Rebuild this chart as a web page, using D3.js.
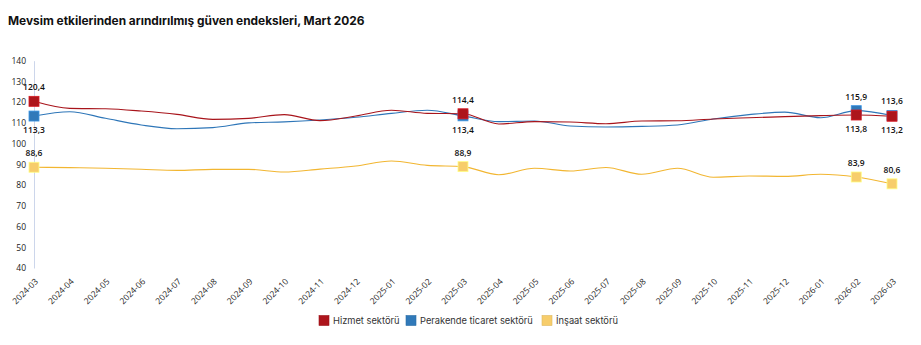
<!DOCTYPE html>
<html>
<head>
<meta charset="utf-8">
<script src="https://cdn.jsdelivr.net/npm/d3@7/dist/d3.min.js"></script>
<style>
  html, body { margin: 0; padding: 0; background: #fff; }
  svg { display: block; }
</style>
</head>
<body>
<svg id="chart" width="921" height="345"></svg>
<script>
// Monthly periods
const months = ["2024-03","2024-04","2024-05","2024-06","2024-07","2024-08","2024-09","2024-10","2024-11","2024-12",
  "2025-01","2025-02","2025-03","2025-04","2025-05","2025-06","2025-07","2025-08","2025-09","2025-10",
  "2025-11","2025-12","2026-01","2026-02","2026-03"];

// Seasonally adjusted confidence indices
const hizmet = [120.4,117.0,116.8,115.7,114.1,111.7,112.2,114.0,111.1,113.3,116.1,114.6,114.4,109.5,110.6,110.4,109.6,110.9,111.0,111.9,112.5,113.0,113.5,113.8,113.2];
const perakende = [113.3,115.4,112.2,109.0,107.2,107.7,110.0,110.5,111.4,112.7,114.6,116.1,113.4,110.6,110.9,108.5,108.0,108.3,109.0,111.9,114.0,115.2,112.5,115.9,113.6];
const insaat = [88.6,88.4,88.1,87.6,87.1,87.6,87.6,86.3,87.7,89.2,91.6,89.5,88.9,85.0,88.1,86.8,88.5,85.2,88.1,83.8,84.4,84.2,85.2,83.9,80.6];

const yTicks = [40,50,60,70,80,90,100,110,120,130,140];
const highlighted = ["2024-03","2025-03","2026-02","2026-03"];

const seriesNames = ["Hizmet sektörü","Perakende ticaret sektörü","İnşaat sektörü"];
const seriesColors = ["#a8141b","#2e76b8","#f2b631"];
const markerColors = ["#ad151c","#3079b9","#f7cd6b"];

const series = [
  {name: seriesNames[0], values: hizmet, line: seriesColors[0], mark: markerColors[0]},
  {name: seriesNames[1], values: perakende, line: seriesColors[1], mark: markerColors[1]},
  {name: seriesNames[2], values: insaat, line: seriesColors[2], mark: markerColors[2]}
];

const svg = d3.select("#chart");
const fmt = v => d3.format(".1f")(v).replace(".", ",");

svg.append("text")
  .attr("x", 8).attr("y", 25)
  .attr("font-family", "Inter, 'Open Sans', sans-serif")
  .attr("font-weight", 700).attr("font-size", 11.9)
  .attr("fill", "#111")
  .text("Mevsim etkilerinden arındırılmış güven endeksleri, Mart 2026");

const x = d3.scalePoint().domain(months).range([34, 892]);
const y = d3.scaleLinear().domain([40, 140]).range([268, 60.7]);

// y axis: labels only, with a light axis line
const yAxis = svg.append("g").attr("transform", "translate(34,0)")
  .call(d3.axisLeft(y).tickValues(yTicks).tickSize(0).tickPadding(8));
yAxis.select(".domain").attr("stroke", "#ccd6eb");
yAxis.selectAll("text")
  .attr("font-family", "'Open Sans', sans-serif").attr("font-size", 8.5).attr("fill", "#1a1a1a");

// x axis: rotated month labels
const xAxis = svg.append("g").attr("transform", "translate(0,278)")
  .call(d3.axisBottom(x).tickSize(0).tickPadding(0));
xAxis.select(".domain").remove();
xAxis.selectAll("text")
  .attr("font-family", "'Open Sans', sans-serif").attr("font-size", 8.5).attr("fill", "#1a1a1a")
  .attr("text-anchor", "end")
  .attr("dy", "0.35em")
  .attr("transform", "translate(2,2) rotate(-45)");

const line = d3.line()
  .x((d, i) => x(months[i]))
  .y(d => y(d))
  .curve(d3.curveMonotoneX);

// draw yellow first, then blue, then red on top
[2, 1, 0].forEach(k => {
  const s = series[k];
  svg.append("path").datum(s.values)
    .attr("fill", "none").attr("stroke", s.line).attr("stroke-width", 1.1)
    .attr("d", line);
});

const msize = 10;
[2, 1, 0].forEach(k => {
  const s = series[k];
  highlighted.forEach(m => {
    const i = months.indexOf(m);
    svg.append("rect")
      .attr("x", x(m) - msize / 2).attr("y", y(s.values[i]) - msize / 2)
      .attr("width", msize).attr("height", msize)
      .attr("fill", s.mark)
      .attr("stroke", d3.color(s.mark).brighter(0.6)).attr("stroke-width", 0.8);
  });
});

// value labels: the higher of red/blue above, the lower below; yellow above
highlighted.forEach(m => {
  const i = months.indexOf(m);
  const a = hizmet[i], b = perakende[i];
  const top = Math.max(a, b), bot = Math.min(a, b);
  const lab = (v, dy) => svg.append("text")
    .attr("x", x(m)).attr("y", y(v) + dy)
    .attr("text-anchor", "middle")
    .attr("font-family", "'Open Sans', sans-serif").attr("font-size", 8.5).attr("font-weight", 600)
    .attr("fill", "#111")
    .text(fmt(v));
  lab(top, -11);
  lab(bot, 17);
  lab(insaat[i], -11);
});

// legend
const legendItems = [
  {name: seriesNames[0], color: markerColors[0], x: 319},
  {name: seriesNames[1], color: markerColors[1], x: 406},
  {name: seriesNames[2], color: markerColors[2], x: 542}
];
legendItems.forEach(d => {
  svg.append("rect").attr("x", d.x).attr("y", 315.5).attr("width", 10).attr("height", 10)
    .attr("fill", d.color).attr("stroke", d3.color(d.color).darker(0.3)).attr("stroke-width", 0.6);
  svg.append("text").attr("x", d.x + 14).attr("y", 324)
    .attr("font-family", "Inter, 'Open Sans', sans-serif").attr("font-size", 9.3)
    .attr("fill", "#333")
    .text(d.name);
});
</script>
</body>
</html>
